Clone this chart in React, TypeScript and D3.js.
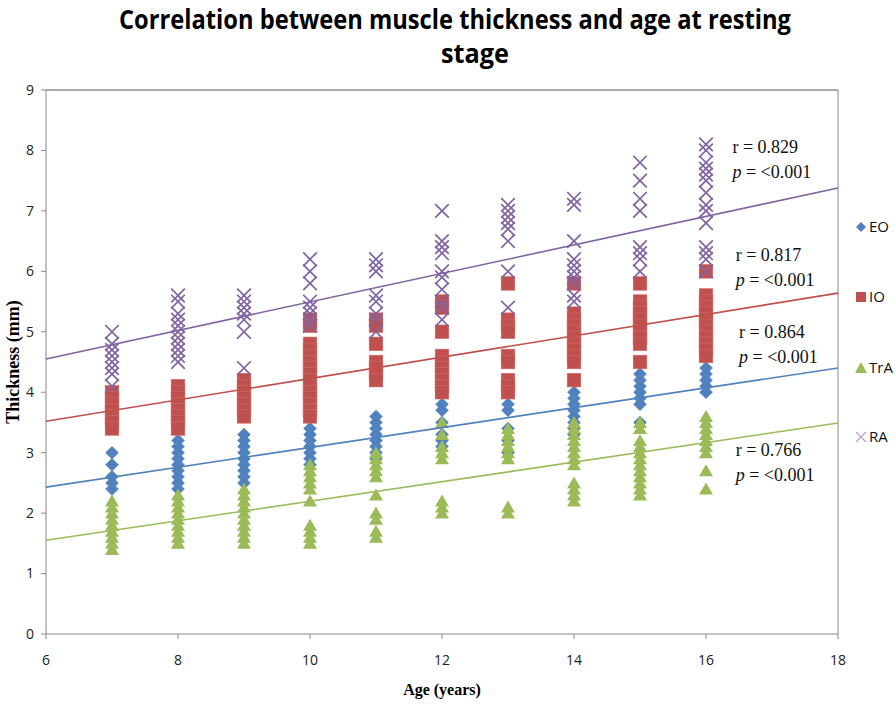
import React from "react";
import * as d3 from "d3";

const ages = [7, 8, 9, 10, 11, 12, 13, 14, 15, 16];
const seriesNames = ["EO", "IO", "TrA", "RA"];
const seriesColors = ["#4F81BD", "#C0504D", "#9BBB59", "#8064A2"];

const eoValues: number[][] = [
  [3.0, 2.8, 2.6, 2.5, 2.4],
  [3.2, 3.1, 3.0, 2.9, 2.8, 2.7, 2.6, 2.5, 2.4],
  [3.3, 3.2, 3.1, 3.0, 2.9, 2.8, 2.7, 2.6, 2.5],
  [3.4, 3.3, 3.2, 3.1, 3.0, 2.9, 2.8],
  [3.6, 3.5, 3.4, 3.3, 3.2, 3.1, 3.0, 2.9],
  [3.8, 3.7, 3.5, 3.3, 3.2, 3.1],
  [3.8, 3.7, 3.4, 3.2, 3.0],
  [4.0, 3.9, 3.8, 3.7, 3.6, 3.5, 3.4, 3.3],
  [4.3, 4.2, 4.1, 4.0, 3.9, 3.8, 3.5],
  [4.4, 4.3, 4.2, 4.1, 4.0],
];
const ioValues: number[][] = [
  [4.0, 3.9, 3.8, 3.7, 3.6, 3.5, 3.4],
  [4.1, 4.0, 3.9, 3.8, 3.7, 3.6, 3.5, 3.4],
  [4.2, 4.1, 4.0, 3.9, 3.8, 3.7, 3.6],
  [5.2, 5.1, 4.8, 4.7, 4.6, 4.5, 4.4, 4.3, 4.2, 4.1, 4.0, 3.9, 3.8, 3.7, 3.6],
  [5.2, 5.1, 4.8, 4.5, 4.4, 4.3, 4.2],
  [5.5, 5.4, 5.0, 4.6, 4.5, 4.4, 4.3, 4.2, 4.1, 4.0],
  [5.8, 5.2, 5.1, 5.0, 4.6, 4.5, 4.2, 4.1, 4.0],
  [5.8, 5.3, 5.2, 5.1, 5.0, 4.9, 4.8, 4.7, 4.6, 4.5, 4.2],
  [5.8, 5.5, 5.4, 5.3, 5.2, 5.1, 5.0, 4.9, 4.8, 4.5],
  [6.0, 5.6, 5.5, 5.4, 5.3, 5.2, 5.1, 5.0, 4.9, 4.8, 4.7, 4.6],
];
const traValues: number[][] = [
  [2.2, 2.1, 2.0, 1.9, 1.8, 1.7, 1.6, 1.5, 1.4],
  [2.3, 2.2, 2.1, 2.0, 1.9, 1.8, 1.7, 1.6, 1.5],
  [2.4, 2.3, 2.2, 2.1, 2.0, 1.9, 1.8, 1.7, 1.6, 1.5],
  [2.8, 2.7, 2.6, 2.5, 2.4, 2.2, 1.8, 1.7, 1.6, 1.5],
  [3.0, 2.9, 2.8, 2.7, 2.6, 2.3, 2.0, 1.9, 1.7, 1.6],
  [3.5, 3.3, 3.1, 3.0, 2.9, 2.2, 2.1, 2.0],
  [3.4, 3.3, 3.2, 3.1, 3.0, 2.9, 2.1, 2.0],
  [3.5, 3.4, 3.3, 3.2, 3.1, 3.0, 2.9, 2.8, 2.5, 2.4, 2.3, 2.2],
  [3.5, 3.4, 3.2, 3.1, 3.0, 2.9, 2.8, 2.7, 2.6, 2.5, 2.4, 2.3],
  [3.6, 3.5, 3.4, 3.3, 3.2, 3.1, 3.0, 2.7, 2.4],
];
const raValues: number[][] = [
  [5.0, 4.8, 4.7, 4.6, 4.5, 4.4, 4.3, 4.1],
  [5.6, 5.5, 5.3, 5.2, 5.1, 5.0, 4.9, 4.8, 4.7, 4.6, 4.5],
  [5.6, 5.5, 5.4, 5.3, 5.2, 5.0, 4.4],
  [6.2, 6.0, 5.8, 5.5, 5.4, 5.3, 5.2, 5.1],
  [6.2, 6.1, 6.0, 5.6, 5.5, 5.3, 5.2, 5.0],
  [7.0, 6.5, 6.4, 6.3, 6.0, 5.9, 5.7, 5.5, 5.4, 5.2],
  [7.1, 7.0, 6.9, 6.8, 6.7, 6.5, 6.0, 5.4],
  [7.2, 7.1, 6.5, 6.2, 6.1, 6.0, 5.9, 5.8, 5.6, 5.5],
  [7.8, 7.5, 7.2, 7.0, 6.4, 6.3, 6.2, 6.0],
  [8.1, 8.0, 7.8, 7.7, 7.6, 7.5, 7.3, 7.1, 7.0, 6.8, 6.4, 6.3, 6.2, 6.0],
];

// trend line values at x = 6 and x = 18 (EO, IO, TrA, RA)
const trendStart = [2.43, 3.52, 1.55, 4.55];
const trendEnd = [4.4, 5.64, 3.49, 7.38];

const statLabels = [
  { r: "r = 0.829", x: 16.4, y: 7.96 },
  { r: "r = 0.817", x: 16.45, y: 6.17 },
  { r: "r = 0.864", x: 16.5, y: 4.9 },
  { r: "r = 0.766", x: 16.45, y: 2.95 },
];

const xTicks = [6, 8, 10, 12, 14, 16, 18];
const yTicks = [0, 1, 2, 3, 4, 5, 6, 7, 8, 9];

const allSeries = [eoValues, ioValues, traValues, raValues];

export default function App() {
  const W = 896;
  const H = 704;
  const x = d3.scaleLinear().domain([6, 18]).range([46, 838]);
  const y = d3.scaleLinear().domain([0, 9]).range([634, 90]);

  const marker = (s: number, cx: number, cy: number, key: string, color: string) => {
    if (s === 0) {
      const h = 6.5;
      return (
        <path
          key={key}
          d={`M${cx},${cy - h}L${cx + h},${cy}L${cx},${cy + h}L${cx - h},${cy}Z`}
          fill={color}
          stroke="#5a8bc6"
          strokeWidth={0.5}
        />
      );
    }
    if (s === 1) {
      const h = 6.8;
      return (
        <rect
          key={key}
          x={cx - h}
          y={cy - h}
          width={2 * h}
          height={2 * h}
          fill={color}
          stroke="#cf6b68"
          strokeWidth={0.6}
        />
      );
    }
    if (s === 2) {
      return (
        <path
          key={key}
          d={`M${cx},${cy - 6.5}L${cx + 7},${cy + 5.5}L${cx - 7},${cy + 5.5}Z`}
          fill={color}
        />
      );
    }
    const h = 6.8;
    return (
      <path
        key={key}
        d={`M${cx - h},${cy - h}L${cx + h},${cy + h}M${cx + h},${cy - h}L${cx - h},${cy + h}`}
        stroke={color}
        strokeWidth={1.7}
        fill="none"
      />
    );
  };

  const lineGen = d3
    .line<[number, number]>()
    .x((d) => x(d[0]))
    .y((d) => y(d[1]));

  return (
    <svg width={W} height={H} style={{ display: "block", position: "absolute", left: 0, top: 0 }}>
      <rect x={0} y={0} width={W} height={H} fill="#fff" />
      {/* Title */}
      <text
        x={455}
        y={29}
        textAnchor="middle"
        fontFamily="'Open Sans', sans-serif"
        fontWeight={700}
        fontSize={26}
        textLength={672}
        lengthAdjust="spacingAndGlyphs"
        fill="#000"
      >
        Correlation between muscle thickness and age at resting
      </text>
      <text
        x={475}
        y={63}
        textAnchor="middle"
        fontFamily="'Open Sans', sans-serif"
        fontWeight={700}
        fontSize={26}
        textLength={68}
        lengthAdjust="spacingAndGlyphs"
        fill="#000"
      >
        stage
      </text>

      {/* plot frame */}
      <line x1={46} x2={838} y1={90} y2={90} stroke="#555" strokeWidth={1} />
      <line x1={838} x2={838} y1={90} y2={634} stroke="#888" strokeWidth={1} />
      <line x1={46} x2={46} y1={90} y2={634} stroke="#888" strokeWidth={1} />
      <line x1={46} x2={838} y1={634} y2={634} stroke="#888" strokeWidth={1} />

      {/* y ticks */}
      {yTicks.map((t) => (
        <g key={"y" + t}>
          <line x1={41} x2={46} y1={y(t)} y2={y(t)} stroke="#888" />
          <text
            x={34}
            y={y(t)}
            dy="0.35em"
            textAnchor="end"
            fontFamily="'Open Sans', sans-serif"
            fontSize={14}
            fill="#222"
          >
            {t}
          </text>
        </g>
      ))}
      {/* x ticks */}
      {xTicks.map((t) => (
        <g key={"x" + t}>
          <line x1={x(t)} x2={x(t)} y1={634} y2={639} stroke="#888" />
          <text
            x={x(t)}
            y={660}
            dy="0.35em"
            textAnchor="middle"
            fontFamily="'Open Sans', sans-serif"
            fontSize={14}
            fill="#222"
          >
            {t}
          </text>
        </g>
      ))}

      {/* axis titles */}
      <text
        x={442}
        y={695}
        textAnchor="middle"
        fontFamily="'Liberation Serif', 'Times New Roman', serif"
        fontWeight={700}
        fontSize={16}
      >
        Age (years)
      </text>
      <text
        transform={`translate(19,362) rotate(-90)`}
        textAnchor="middle"
        fontFamily="'Liberation Serif', 'Times New Roman', serif"
        fontWeight={700}
        fontSize={18}
      >
        Thickness (mm)
      </text>

      {/* markers */}
      {allSeries.map((vals, s) => (
        <g key={"s" + s}>
          {vals.flatMap((arr, i) =>
            arr.map((v, j) => marker(s, x(ages[i]), y(v), `${s}-${i}-${j}`, seriesColors[s]))
          )}
        </g>
      ))}

      {/* trend lines */}
      {seriesNames.map((n, s) => (
        <path
          key={"t" + n}
          d={lineGen([
            [6, trendStart[s]],
            [18, trendEnd[s]],
          ]) || ""}
          stroke={seriesColors[s]}
          strokeWidth={1.6}
          fill="none"
        />
      ))}

      {/* stat labels */}
      {statLabels.map((l, i) => (
        <g
          key={"st" + i}
          fontFamily="'Liberation Serif', 'Times New Roman', serif"
          fontSize={18}
          fill="#111"
        >
          <text x={x(l.x)} y={y(l.y)}>
            {l.r}
          </text>
          <text x={x(l.x)} y={y(l.y) + 25}>
            <tspan fontStyle="italic">p</tspan> = &lt;0.001
          </text>
        </g>
      ))}

      {/* legend */}
      {seriesNames.map((n, s) => {
        const ly = [227, 297, 368, 437][s];
        const lm = (() => {
          const cx = 861;
          if (s === 0)
            return <path d={`M${cx},${ly - 5}L${cx + 5},${ly}L${cx},${ly + 5}L${cx - 5},${ly}Z`} fill={seriesColors[s]} />;
          if (s === 1) return <rect x={cx - 5} y={ly - 5} width={10} height={10} fill={seriesColors[s]} />;
          if (s === 2) return <path d={`M${cx},${ly - 6}L${cx + 6},${ly + 5}L${cx - 6},${ly + 5}Z`} fill={seriesColors[s]} />;
          return (
            <path
              d={`M${cx - 5},${ly - 5}L${cx + 5},${ly + 5}M${cx + 5},${ly - 5}L${cx - 5},${ly + 5}`}
              stroke="#b3a2c7"
              strokeWidth={1.2}
            />
          );
        })();
        return (
          <g key={"lg" + n}>
            {lm}
            <text x={869} y={ly} dy="0.35em" fontFamily="'Open Sans', sans-serif" fontSize={15} fill="#111">
              {n}
            </text>
          </g>
        );
      })}
    </svg>
  );
}
